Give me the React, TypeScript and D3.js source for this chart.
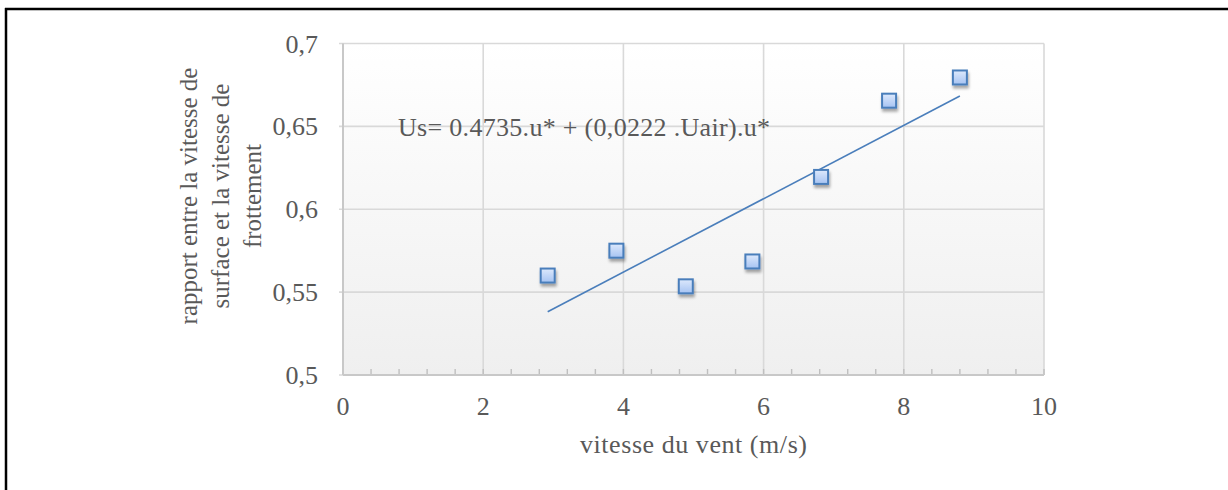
import React from "react";
import * as d3 from "d3";

// Wind speed (m/s) and surface/friction velocity ratio
const windSpeed = [2.92, 3.9, 4.89, 5.84, 6.82, 7.79, 8.8];
const velocityRatio = [0.56, 0.575, 0.5535, 0.5685, 0.6195, 0.6655, 0.6795];

const xTicks = [0, 2, 4, 6, 8, 10];
const yTicks = [0.5, 0.55, 0.6, 0.65, 0.7];

const equationText = "Us= 0.4735.u* + (0,0222 .Uair).u*";
const xTitle = "vitesse du vent (m/s)";
const yTitleLines = ["rapport entre la vitesse de", "surface et la vitesse de", "frottement"];

const W = 1228;
const H = 490;
const plot = { left: 343, right: 1044, top: 43.5, bottom: 375 };
const font = "'Liberation Serif', 'Times New Roman', serif";
const textColor = "#595959";
const gridColor = "#d9d9d9";
const lineBlue = "#4a7ebb";

function linearFit(xs: number[], ys: number[]) {
  const mx = d3.mean(xs) as number;
  const my = d3.mean(ys) as number;
  let num = 0;
  let den = 0;
  xs.forEach((x, i) => {
    num += (x - mx) * (ys[i] - my);
    den += (x - mx) * (x - mx);
  });
  const slope = num / den;
  return { slope, intercept: my - slope * mx };
}

export default function App() {
  const x = d3.scaleLinear().domain([0, 10]).range([plot.left, plot.right]);
  const y = d3.scaleLinear().domain([0.5, 0.7]).range([plot.bottom, plot.top]);

  const fit = linearFit(windSpeed, velocityRatio);
  const [x0, x1] = d3.extent(windSpeed) as [number, number];
  const trend = d3.line<number>()
    .x((d) => x(d))
    .y((d) => y(fit.intercept + fit.slope * d))([x0, x1]) as string;

  const minorTicks = d3.range(0, 10.0001, 0.4);
  const points = windSpeed.map((v, i) => ({ wx: v, r: velocityRatio[i] }));
  const ms = 14;

  return (
    <svg width={W} height={H} style={{ display: "block", position: "absolute", left: 0, top: 0 }}>
      <defs>
        <linearGradient id="plotBg" x1="0" y1="0" x2="0" y2="1">
          <stop offset="0" stopColor="#ffffff" />
          <stop offset="1" stopColor="#efefef" />
        </linearGradient>
        <linearGradient id="markerFill" x1="0" y1="0" x2="0" y2="1">
          <stop offset="0" stopColor="#dde9fc" />
          <stop offset="1" stopColor="#a6c3f2" />
        </linearGradient>
        <filter id="markerShadow" x="-50%" y="-50%" width="200%" height="200%">
          <feGaussianBlur in="SourceAlpha" stdDeviation="1.5" />
          <feOffset dx="1" dy="2.5" result="blur" />
          <feComponentTransfer>
            <feFuncA type="linear" slope="0.35" />
          </feComponentTransfer>
          <feMerge>
            <feMergeNode />
            <feMergeNode in="SourceGraphic" />
          </feMerge>
        </filter>
      </defs>

      <rect x={0} y={0} width={W} height={H} fill="#ffffff" />
      {/* outer frame: top and left edges */}
      <line x1={5} y1={9} x2={W} y2={9} stroke="#000" strokeWidth={2.5} />
      <line x1={6} y1={8} x2={6} y2={H} stroke="#000" strokeWidth={2.5} />

      {/* plot area */}
      <rect x={plot.left} y={plot.top} width={plot.right - plot.left} height={plot.bottom - plot.top} fill="url(#plotBg)" />

      {/* gridlines */}
      {yTicks.map((t) => (
        <line key={"gy" + t} x1={plot.left - 4} x2={plot.right} y1={y(t)} y2={y(t)} stroke={gridColor} strokeWidth={1.6} />
      ))}
      {xTicks.map((t) => (
        <line key={"gx" + t} x1={x(t)} x2={x(t)} y1={plot.top} y2={plot.bottom} stroke={gridColor} strokeWidth={1.6} />
      ))}

      {/* minor ticks along the x axis */}
      {minorTicks.map((t) => (
        <line key={"mt" + t.toFixed(1)} x1={x(t)} x2={x(t)} y1={plot.bottom} y2={plot.bottom - 6} stroke="#bfbfbf" strokeWidth={1.4} />
      ))}

      {/* axes */}
      <line x1={plot.left} x2={plot.right} y1={plot.bottom} y2={plot.bottom} stroke="#c8c8c8" strokeWidth={2} />
      <line x1={plot.left} x2={plot.left} y1={plot.top} y2={plot.bottom} stroke="#c8c8c8" strokeWidth={2} />

      {/* tick labels */}
      {yTicks.map((t) => (
        <text key={"ly" + t} x={318} y={y(t)} dy="0.35em" textAnchor="end" fontFamily={font} fontSize={26} fill={textColor}>
          {d3.format(".2~f")(t).replace(".", ",")}
        </text>
      ))}
      {xTicks.map((t) => (
        <text key={"lx" + t} x={x(t)} y={415} textAnchor="middle" fontFamily={font} fontSize={26} fill={textColor}>
          {t}
        </text>
      ))}

      {/* regression line */}
      <path d={trend} fill="none" stroke={lineBlue} strokeWidth={1.6} />

      {/* data markers */}
      {points.map((p, i) => (
        <rect
          key={"pt" + i}
          x={x(p.wx) - ms / 2}
          y={y(p.r) - ms / 2}
          width={ms}
          height={ms}
          fill="url(#markerFill)"
          stroke={lineBlue}
          strokeWidth={2}
          filter="url(#markerShadow)"
        />
      ))}

      {/* equation */}
      <text x={398} y={136} fontFamily={font} fontSize={26} fill={textColor} textLength={372} lengthAdjust="spacing">
        {equationText}
      </text>

      {/* axis titles */}
      <text x={(plot.left + plot.right) / 2} y={453} textAnchor="middle" fontFamily={font} fontSize={26} fill={textColor} textLength={227} lengthAdjust="spacing">
        {xTitle}
      </text>
      <g transform="translate(220,196) rotate(-90)">
        {yTitleLines.map((l, i) => (
          <text key={"yt" + i} x={0} y={(i - 1) * 32} dy="0.35em" textAnchor="middle" fontFamily={font} fontSize={25} fill={textColor}>
            {l}
          </text>
        ))}
      </g>
    </svg>
  );
}
